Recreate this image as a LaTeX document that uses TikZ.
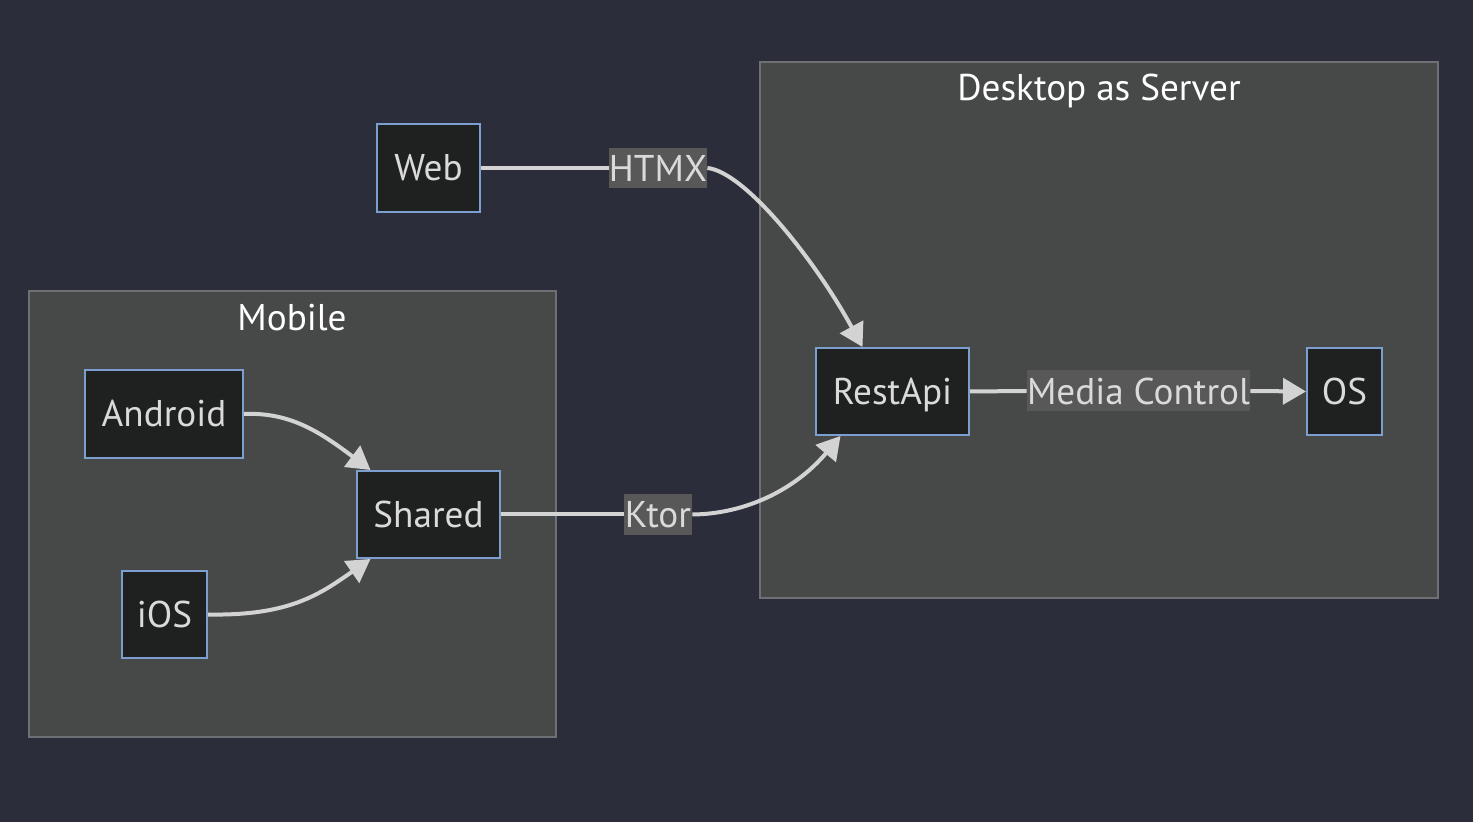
\documentclass[tikz,border=0pt]{standalone}
\usepackage{fontspec}
\setmainfont{PT Sans}
\usetikzlibrary{arrows.meta,calc}
\definecolor{bg}{RGB}{43,45,58}
\definecolor{clfill}{RGB}{71,72,72}
\definecolor{clborder}{RGB}{110,112,116}
\definecolor{nfill}{RGB}{31,32,32}
\definecolor{nborder}{RGB}{125,159,208}
\definecolor{ntext}{RGB}{218,218,218}
\definecolor{edge}{RGB}{211,211,211}
\definecolor{lblfill}{RGB}{88,88,88}
\tikzset{
  capbox/.style={text height=13pt, text depth=0pt},
  cluster/.style={draw=clborder, fill=clfill, line width=1pt},
  box/.style={capbox, draw=nborder, fill=nfill, line width=1pt, text=ntext, font=\fontsize{18.6}{22}\selectfont, inner sep=0pt, anchor=center},
  lbl/.style={fill=lblfill, text=ntext, font=\fontsize{18.6}{22}\selectfont, inner xsep=0pt, inner ysep=0pt, anchor=center},
  ttl/.style={capbox, text=white, font=\fontsize{18.6}{22}\selectfont, anchor=center},
  conn/.style={draw=edge, line width=2pt},
  arr/.style={conn, -{Triangle[length=11.5pt,width=13pt]}},
}
\begin{document}
\begin{tikzpicture}[x=0.5pt,y=-0.5pt]
\fill[bg] (0,0) rectangle (1473,822);
\useasboundingbox (0,0) rectangle (1473,822);
% clusters
\draw[cluster] (760,62) rectangle (1438,598);
\node[ttl] (tdesk) at (1099,88) {Desktop as Server};
\draw[cluster] (29,291) rectangle (556,737);
\node[ttl] (tmob) at (292,318) {Mobile};
% nodes
\node[box, minimum width=51.5pt, minimum height=44pt] (web) at (428.5,168) {Web};
\node[box, minimum width=76.5pt, minimum height=43.5pt] (rest) at (892.5,391.5) {RestApi};
\node[box, minimum width=37.5pt, minimum height=43.5pt] (os) at (1344.5,391.5) {OS};
\node[box, minimum width=79pt, minimum height=44pt] (android) at (164,414) {Android};
\node[box, minimum width=71.5pt, minimum height=43.5pt] (shared) at (428.5,514.5) {Shared};
\node[box, minimum width=42.5pt, minimum height=43.5pt] (ios) at (164.5,614.5) {iOS};
% edge labels
\node[lbl, minimum width=45pt, minimum height=20pt] (htmx) at (658,168) {HTMX};
\node[lbl, minimum width=34pt, minimum height=20.5pt] (ktor) at (658,514.5) {Ktor};
\node[lbl, minimum width=111.5pt, minimum height=20.5pt] (media) at (1138.5,391) {Media Control};
\coordinate (restin1) at ($(rest.north)+(-30,0)$);
\coordinate (restin2) at ($(rest.south)+(-52,0)$);
\coordinate (shin1) at ($(shared.north)+(-58,0)$);
\coordinate (shin2) at ($(shared.south)+(-58,0)$);
% edges
\draw[conn] (web.east) -- (htmx.west);
\draw[arr] (htmx.east) .. controls (745,172) and (815,260) .. (restin1);
\draw[conn] (shared.east) -- (ktor.west);
\draw[arr] (ktor.east) .. controls (745,514) and (795,490) .. (restin2);
\draw[conn] (rest.east) -- (media.west);
\draw[arr] (media.east) -- (os.west);
\draw[arr] (android.east) .. controls (290,412) and (320,432) .. (shin1);
\draw[arr] (ios.east) .. controls (290,616) and (320,594) .. (shin2);
\end{tikzpicture}
\end{document}
